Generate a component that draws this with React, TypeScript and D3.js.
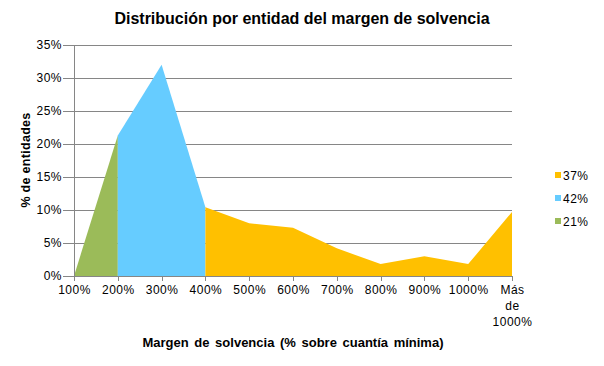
import React, { useEffect, useRef } from "react"
import * as d3 from "d3"

const categories = ["100%", "200%", "300%", "400%", "500%", "600%", "700%", "800%", "900%", "1000%", "Más de 1000%"]
// three area series as in the source sheet, null where a series has no value
const greenValues = [0, 21.3, null, null, null, null, null, null, null, null, null]
const blueValues = [null, 21.3, 32.0, 10.4, null, null, null, null, null, null, null]
const orangeValues = [null, null, null, 10.4, 8.0, 7.3, 4.2, 1.8, 3.0, 1.8, 9.7]
const legendLabels = ["37%", "42%", "21%"]
const yTicks = [0, 5, 10, 15, 20, 25, 30, 35]

const FONT = "'Liberation Sans', Arial, sans-serif"

export default function App() {
  const ref = useRef<SVGSVGElement>(null)

  useEffect(() => {
    const svg = d3.select(ref.current)
    svg.selectAll("*").remove()
    svg.attr("width", 604).attr("height", 366)

    svg.append("rect").attr("width", 604).attr("height", 366).attr("fill", "white")

    const x = d3.scalePoint().domain(categories).range([74, 512])
    const y = d3.scaleLinear().domain([0, 35]).range([276, 45])

    // gridlines
    svg.append("g")
      .selectAll("line")
      .data(yTicks.filter(d => d > 0))
      .enter()
      .append("line")
      .attr("x1", 74).attr("x2", 512)
      .attr("y1", d => y(d)).attr("y2", d => y(d))
      .attr("stroke", "#868686")
      .attr("stroke-width", 1)
      .attr("shape-rendering", "crispEdges")

    const series = [
      { values: greenValues, color: "#9BBB59" },
      { values: blueValues, color: "#66CCFF" },
      { values: orangeValues, color: "#FFC000" },
    ]

    const area = d3.area<number | null>()
      .defined(d => d !== null)
      .x((d, i) => x(categories[i]) as number)
      .y0(y(0))
      .y1(d => y(d as number))

    series.forEach(s => {
      svg.append("path")
        .attr("d", area(s.values))
        .attr("fill", s.color)
    })

    // y axis
    const yAxis = d3.axisLeft(y).tickValues(yTicks).tickSize(11).tickPadding(1).tickFormat(d => d + "%")
    const gy = svg.append("g").attr("transform", "translate(74,0)").call(yAxis)
    gy.select(".domain").attr("stroke", "#868686").attr("shape-rendering", "crispEdges")
    gy.selectAll(".tick line").attr("stroke", "#868686").attr("shape-rendering", "crispEdges")
    gy.selectAll(".tick text")
      .attr("font-family", FONT).attr("font-size", 12).attr("fill", "#000")
      .attr("letter-spacing", "0.5px")

    // x axis
    const xAxis = d3.axisBottom(x).tickSize(5).tickSizeOuter(0).tickPadding(4)
    const gx = svg.append("g").attr("transform", "translate(0,276)").call(xAxis)
    gx.select(".domain").attr("stroke", "#868686").attr("shape-rendering", "crispEdges")
    gx.selectAll(".tick line").attr("stroke", "#868686").attr("shape-rendering", "crispEdges")
    gx.selectAll<SVGTextElement, string>(".tick text")
      .attr("font-family", FONT).attr("font-size", 12).attr("fill", "#000")
      .attr("letter-spacing", "0.5px")
      .each(function (d) {
        if (d === "Más de 1000%") {
          const t = d3.select(this)
          t.text(null)
          const lines = ["Más", "de", "1000%"]
          lines.forEach((l, i) => {
            t.append("tspan").attr("x", 0).attr("dy", i === 0 ? "0.71em" : 16).text(l)
          })
        }
      })

    // title
    svg.append("text")
      .text("Distribución por entidad del margen de solvencia")
      .attr("x", 302).attr("y", 24)
      .attr("text-anchor", "middle")
      .attr("font-family", FONT).attr("font-size", 16).attr("font-weight", "bold")

    // axis titles
    svg.append("text")
      .text("% de entidades")
      .attr("transform", "translate(30,160) rotate(-90)")
      .attr("text-anchor", "middle")
      .attr("font-family", FONT).attr("font-size", 12.5).attr("font-weight", "bold")
      .attr("letter-spacing", "0.3px")

    svg.append("text")
      .text("Margen de solvencia (% sobre cuantía mínima)")
      .attr("x", 293).attr("y", 347)
      .attr("text-anchor", "middle")
      .attr("font-family", FONT).attr("font-size", 13).attr("font-weight", "bold")
      .attr("word-spacing", "2px")

    // legend
    const legendColors = ["#FFC000", "#66CCFF", "#9BBB59"]
    const lg = svg.append("g")
    legendLabels.forEach((l, i) => {
      lg.append("rect")
        .attr("x", 555).attr("y", 172 + i * 23)
        .attr("width", 6).attr("height", 6)
        .attr("fill", legendColors[i])
      lg.append("text")
        .text(l)
        .attr("x", 563).attr("y", 179.5 + i * 23)
        .attr("font-family", FONT).attr("font-size", 12)
        .attr("letter-spacing", "0.5px")
    })
  }, [])

  return <svg ref={ref} style={{ position: "absolute", left: 0, top: 0 }} />
}
